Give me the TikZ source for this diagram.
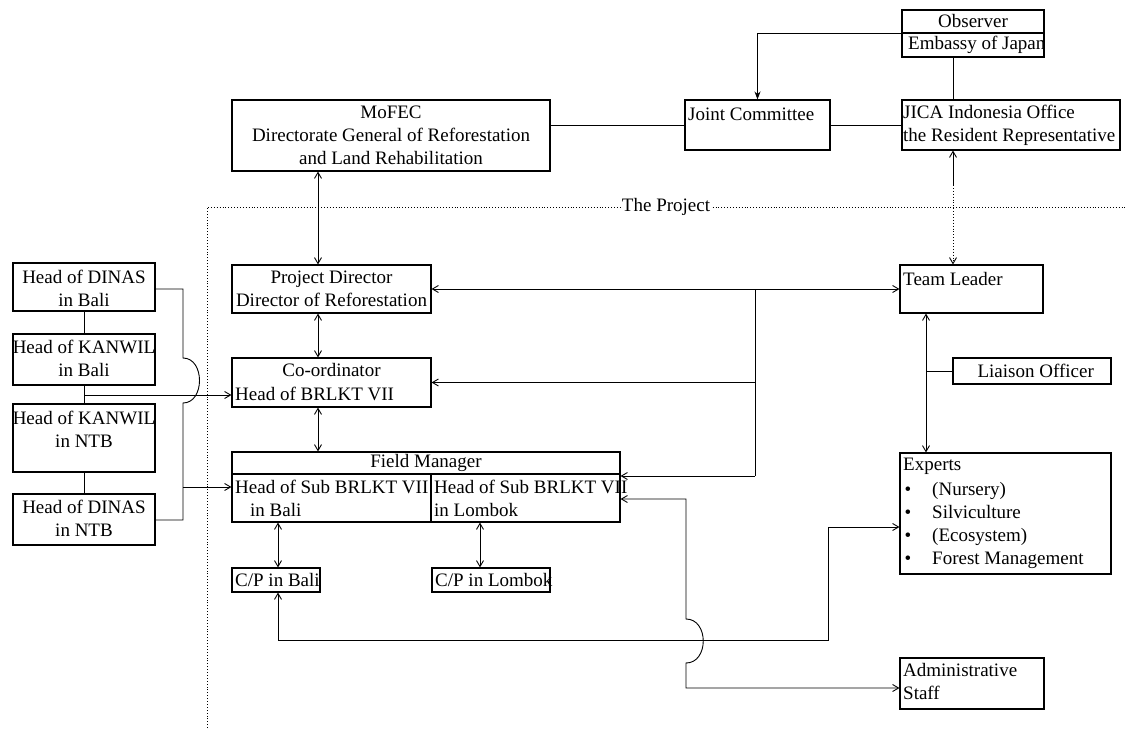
\documentclass[tikz,border=0pt]{standalone}
\usepackage{fontspec}
\setmainfont{Liberation Serif}
\usetikzlibrary{arrows.meta,fit}
\begin{document}
\begin{tikzpicture}[x=1pt,y=-1pt,
  box/.style={draw, line width=1.1pt, inner sep=0pt},
  txt/.style={inner sep=0pt, font=\fontsize{19}{23}\selectfont, align=left},
  ctxt/.style={inner sep=0pt, font=\fontsize{19}{23}\selectfont, align=center},
  ln/.style={line width=0.9pt},
  tip/.tip={Straight Barb[length=6pt,width=7pt]},
  ar/.style={ln, -tip},
  bar/.style={ln, tip-tip},
  dot/.style={line width=0.9pt, dotted},
]
\useasboundingbox (0,0) rectangle (1126,728);
\fill[white] (0,0) rectangle (1126,728);

% project boundary
\draw[dot] (207,728) -- (207,207) -- (1126,207);
\node[txt, fill=white, inner xsep=1pt, inner ysep=2pt] (proj) at (666,207) {The Project};

% boxes
\node[box, fit={(902,10) (1044,57)}] (obs) {};
\draw[line width=1.1pt] (obs.west |- 0,33) -- (obs.east |- 0,33);
\node[box, fit={(902,100) (1120,150)}] (jica) {};
\node[box, fit={(685,100) (830,150)}] (jc) {};
\node[box, fit={(232,100) (550,171)}] (mofec) {};
\node[box, fit={(232,265) (431,313)}] (pd) {};
\node[box, fit={(232,358) (431,407)}] (coord) {};
\node[box, fit={(232,452) (620,522)}] (fm) {};
\draw[line width=1.1pt] (fm.west |- 0,474) -- (fm.east |- 0,474);
\draw[line width=1.1pt] (431,474) -- (fm.south -| 431,0);
\node[box, fit={(232,568) (320,592)}] (cpb) {};
\node[box, fit={(432,568) (550,592)}] (cpl) {};
\node[box, fit={(900,265) (1043,313)}] (tl) {};
\node[box, fit={(953,358) (1111,384)}] (lo) {};
\node[box, fit={(900,453) (1111,574)}] (exp) {};
\node[box, fit={(900,658) (1044,709)}] (adm) {};
\node[box, fit={(13,263) (155,311)}] (dinasB) {};
\node[box, fit={(13,334) (155,385)}] (kanB) {};
\node[box, fit={(13,404) (155,472)}] (kanN) {};
\node[box, fit={(13,494) (155,545)}] (dinasN) {};

% texts
\node[ctxt] (tobs) at (973,21) {Observer};
\node[txt, anchor=west] (temb) at (908,45) {Embassy of Japan};
\node[txt, anchor=west] (tjica) at (903,125.5) {JICA Indonesia Office\\the Resident Representative};
\node[txt, anchor=west] (tjc) at (688,114) {Joint Committee};
\node[ctxt] (tmofec) at (391,135.5) {MoFEC\\Directorate General of Reforestation\\and Land Rehabilitation};
\node[ctxt] (tpd) at (331.5,288.5) {Project Director\\Director of Reforestation};
\node[ctxt] (tco1) at (331.5,370) {Co-ordinator};
\node[txt, anchor=west] (tco2) at (235,394) {Head of BRLKT VII};
\node[ctxt] (tfm) at (426,463) {Field Manager};
\node[txt, anchor=west] (tsb1) at (235,487) {Head of Sub BRLKT VII};
\node[txt, anchor=west] (tsb2) at (250,510) {in Bali};
\node[txt, anchor=west] (tsl1) at (434,487) {Head of Sub BRLKT VII};
\node[txt, anchor=west] (tsl2) at (434,510) {in Lombok};
\node[txt, anchor=west] (tcpb) at (235,580) {C/P in Bali};
\node[txt, anchor=west] (tcpl) at (435,580) {C/P in Lombok};
\node[txt, anchor=west] (ttl) at (903,279) {Team Leader};
\node[txt, anchor=east] (tlo) at (1094,371) {Liaison Officer};
\node[txt, anchor=west] (texp) at (903,466) {Experts};
\node[txt, anchor=base] (b1) at (908,495) {\textbullet};
\node[txt, anchor=base] (b2) at (908,518) {\textbullet};
\node[txt, anchor=base] (b3) at (908,541) {\textbullet};
\node[txt, anchor=base] (b4) at (908,564) {\textbullet};
\node[txt, anchor=base west] (e1) at (932,495) {(Nursery)};
\node[txt, anchor=base west] (e2) at (932,518) {Silviculture};
\node[txt, anchor=base west] (e3) at (932,541) {(Ecosystem)};
\node[txt, anchor=base west] (e4) at (932,564) {Forest Management};
\node[txt, anchor=west] (tadm) at (903,681) {Administrative\\Staff};
\node[ctxt] (tdb) at (84,288) {Head of DINAS\\in Bali};
\node[ctxt] (tkb) at (84,358.5) {Head of KANWIL\\in Bali};
\node[ctxt] (tkn) at (84,429.5) {Head of KANWIL\\in NTB};
\node[ctxt] (tdn) at (84,518) {Head of DINAS\\in NTB};

% connectors top
\draw[ln, -{Stealth[length=8pt,width=6pt]}] (obs.west) -| (jc.north);
\draw[ln] (obs.south -| 953,0) -- (jica.north -| 953,0);
\draw[ln] (mofec.east |- 0,125) -- (jc.west);
\draw[ln] (jc.east) -- (jica.west);
\coordinate (jt) at (953,185);
\draw[ln, tip-] (jica.south -| jt) -- (jt);
\draw[dot, -tip] (jt) -- (tl.north -| jt);

% project column
\draw[bar] (mofec.south -| 318,0) -- (pd.north -| 318,0);
\draw[bar] (pd.south -| 318,0) -- (coord.north -| 318,0);
\draw[bar] (coord.south -| 318,0) -- (fm.north -| 318,0);
\draw[bar] (fm.south -| 278,0) -- (cpb.north -| 278,0);
\draw[bar] (fm.south -| 480,0) -- (cpl.north -| 480,0);

% team leader links
\draw[bar] (pd.east) -- (tl.west);
\coordinate (v1) at (755,289);
\coordinate (v2) at (755,476);
\draw[ln] (v1) -- (v2);
\draw[ar] (v1 |- coord.east) -- (coord.east);
\draw[ar] (v2) -- (fm.east |- v2);
\draw[bar] (tl.south -| 926,0) -- (exp.north -| 926,0);
\coordinate (lj) at (926,371);
\draw[ln] (lj) -- (lo.west);

% lower paths
\draw[bar] (cpb.south -| 278,0) -- (278,640) -- (828,640) -- (828,527) -- (exp.west |- 0,527);
\draw[bar] (fm.east |- 0,499) -- (686,499) -- (686,619)
  .. controls (709,619) and (709,663) .. (686,663) -- (686,688) -- (adm.west |- 0,688);

% left column
\draw[ln] (dinasB.south -| 84,0) -- (kanB.north -| 84,0);
\draw[ln] (kanB.south -| 84,0) -- (kanN.north -| 84,0);
\draw[ln] (kanN.south -| 84,0) -- (dinasN.north -| 84,0);
\coordinate (kj) at (84,395);
\draw[ar] (kj) -- (coord.west |- kj);
\draw[ln] (dinasB.east |- 0,289) -- (183,289) -- (183,358)
  .. controls (205,358) and (205,403) .. (183,403) -- (183,520) -- (dinasN.east |- 0,520);
\coordinate (bj) at (183,487);
\draw[ar] (bj) -- (fm.west |- bj);
\end{tikzpicture}
\end{document}
